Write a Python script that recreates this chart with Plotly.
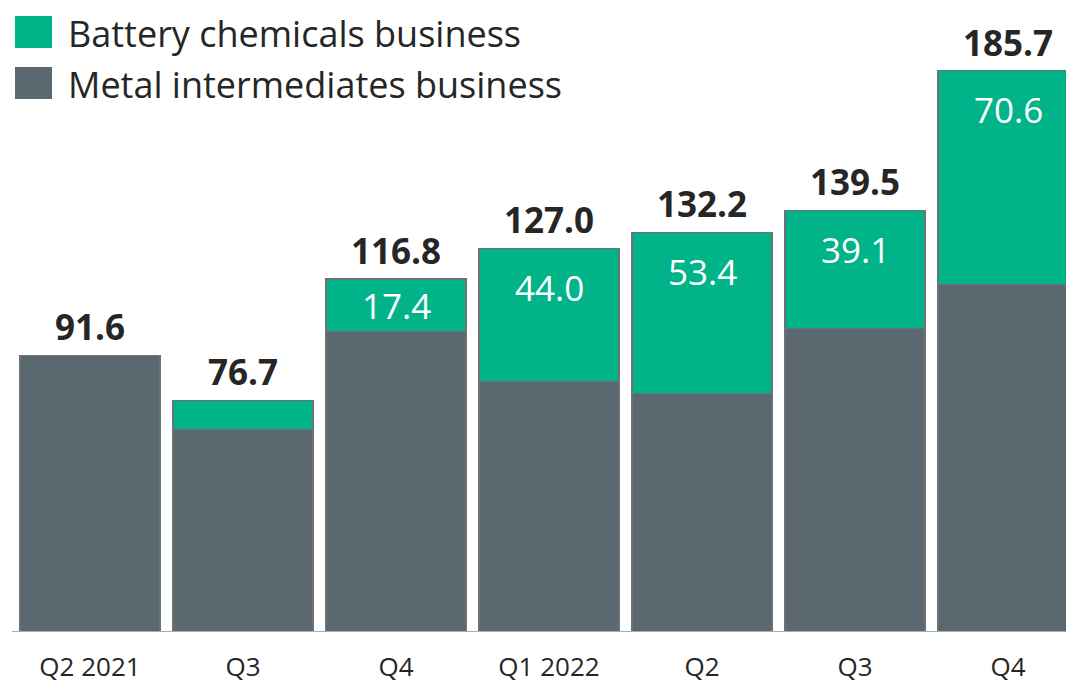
import plotly.graph_objects as go

categories = ["Q2 2021", "Q3", "Q4", "Q1 2022", "Q2", "Q3 ", "Q4 "]
tick_text = ["Q2 2021", "Q3", "Q4", "Q1 2022", "Q2", "Q3", "Q4"]
metal = [91.6, 67.1, 99.4, 83.0, 78.8, 100.4, 115.1]
battery = [0.0, 9.6, 17.4, 44.0, 53.4, 39.1, 70.6]
battery_labels = ["", "", "17.4", "44.0", "53.4", "39.1", "70.6"]
totals = [91.6, 76.7, 116.8, 127.0, 132.2, 139.5, 185.7]
legend_names = ["Battery chemicals business", "Metal intermediates business"]

GREEN = "#00b388"
GRAY = "#5b6870"
OUTLINE = "#6c7175"
FONT = "Open Sans, Lato, sans-serif"
W, H = 1066, 677
PLOT_H = 624
x_idx = list(range(len(categories)))

fig = go.Figure()
fig.add_trace(go.Bar(x=x_idx, y=metal, marker=dict(color=GRAY, line=dict(color=OUTLINE, width=1.2)),
                     width=0.915, name=legend_names[1], showlegend=False, hoverinfo="skip"))
fig.add_trace(go.Bar(x=x_idx, y=battery, marker=dict(color=GREEN, line=dict(color=OUTLINE, width=1.2)),
                     width=0.915, name=legend_names[0], showlegend=False, hoverinfo="skip"))

# totals above bars
for i, t in enumerate(totals):
    fig.add_annotation(x=i, y=t, text=f"<b>{t:.1f}</b>", showarrow=False, yanchor="bottom", yshift=3,
                       font=dict(family=FONT, size=35, color="#262626"))
# battery segment labels
for i, (lab, b, t) in enumerate(zip(battery_labels, battery, totals)):
    if lab:
        yy = t - min(b / 2, 12.9)
        fig.add_annotation(x=i, y=yy, text=lab, showarrow=False, yanchor="middle",
                           font=dict(family=FONT, size=35, color="white"))

# baseline
fig.add_shape(type="line", xref="x", yref="y", x0=-0.51, x1=6.6, y0=0, y1=0,
              line=dict(color="#a6aeb4", width=2))

# legend (manual)
legend_colors = [GREEN, GRAY]
for k, (name, col) in enumerate(zip(legend_names, legend_colors)):
    y_top = k * 51
    fig.add_shape(type="rect", xref="paper", yref="paper",
                  x0=7 / W, x1=44 / W, y0=1 - (y_top + 8) / PLOT_H, y1=1 - (y_top + 40) / PLOT_H,
                  fillcolor=col, line=dict(width=0))
    fig.add_annotation(xref="paper", yref="paper", x=59 / W, y=1 - y_top / PLOT_H,
                       text=name, showarrow=False, xanchor="left", yanchor="top", borderpad=0,
                       font=dict(family=FONT, size=36, color="#262626"))

fig.update_layout(
    barmode="stack",
    width=W, height=H,
    margin=dict(l=0, r=0, t=0, b=H - PLOT_H, autoexpand=False),
    plot_bgcolor="white", paper_bgcolor="white",
    xaxis=dict(range=[-0.536, 6.431], tickvals=x_idx, ticktext=tick_text, showgrid=False,
               zeroline=False, showline=False, ticks="", ticklabelstandoff=17,
               tickfont=dict(family=FONT, size=26, color="#262626")),
    yaxis=dict(range=[0, PLOT_H / 3.022], visible=False),
)

fig.write_html("out.html")
